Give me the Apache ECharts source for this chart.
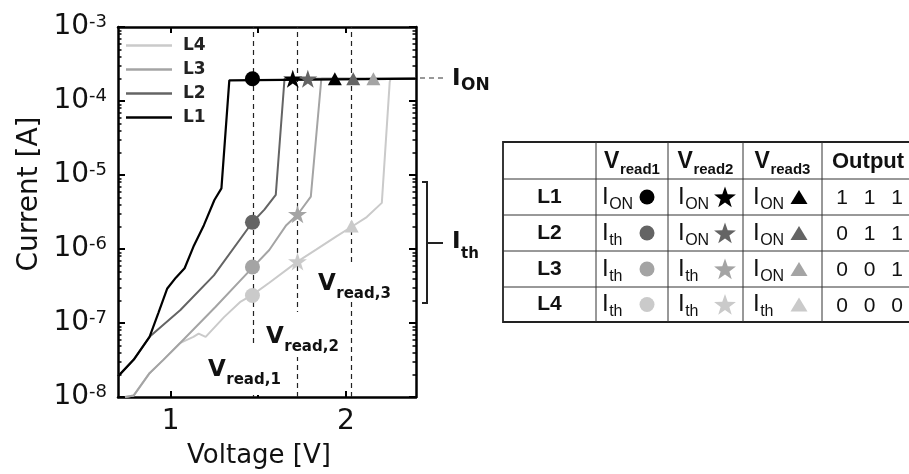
<!DOCTYPE html>
<html>
<head>
<meta charset="utf-8">
<script src="https://cdn.jsdelivr.net/npm/echarts@6/dist/echarts.min.js"></script>
<style>
  html, body { margin: 0; padding: 0; background: #fff; }
  #main { width: 909px; height: 474px; }
</style>
</head>
<body>
<div id="main"></div>
<script>
// ---- data ----
const levels = ['L1', 'L2', 'L3', 'L4'];
const levelColors = ['#000000', '#646464', '#a4a4a4', '#cacaca'];

// I-V curves [V, A]
const curveL1 = [[0.7, 1.9e-8], [0.79, 3.2e-8], [0.88, 6.5e-8], [0.93, 1.36e-7], [0.98, 2.9e-7], [1.03, 4.1e-7],
  [1.08, 5.5e-7], [1.13, 1.07e-6], [1.19, 2.1e-6], [1.25, 4.6e-6], [1.29, 6.6e-6], [1.335, 1.9e-4], [1.345, 2e-4], [2.4, 2e-4]];
const curveL2 = [[0.7, 1.9e-8], [0.79, 3.2e-8], [0.88, 6.5e-8], [1.056, 1.5e-7], [1.247, 4.4e-7], [1.467, 2.3e-6],
  [1.535, 3.4e-6], [1.6, 5.4e-6], [1.65, 2e-4], [2.4, 2e-4]];
const curveL3 = [[0.74, 1e-8], [0.79, 1.05e-8], [0.88, 2.1e-8], [0.96, 3.2e-8], [1.056, 5.4e-8], [1.257, 1.66e-7],
  [1.467, 5.6e-7], [1.563, 9.7e-7], [1.66, 2.1e-6], [1.726, 2.95e-6], [1.8, 5.1e-6], [1.86, 2e-4], [2.4, 2e-4]];
const curveL4 = [[0.74, 1e-8], [0.79, 1.05e-8], [0.88, 2.1e-8], [0.96, 3.2e-8], [1.056, 5.4e-8], [1.13, 6.5e-8],
  [1.16, 7.2e-8], [1.2, 6.5e-8], [1.305, 1.2e-7], [1.4, 1.95e-7], [1.467, 2.4e-7], [1.563, 3.5e-7], [1.726, 6.8e-7],
  [1.83, 9.8e-7], [1.946, 1.48e-6], [2.033, 2.0e-6], [2.119, 2.7e-6], [2.205, 4.2e-6], [2.25, 1.8e-4], [2.255, 2e-4], [2.4, 2e-4]];
const curves = [curveL1, curveL2, curveL3, curveL4];

const vRead = [1.467, 1.724, 2.03];
const vReadNames = ['read,1', 'read,2', 'read,3'];

// read markers: voltage, current, shape (0 circle,1 star,2 triangle), level
const markV = [1.467, 1.697, 1.783, 1.937, 2.042, 2.157, 1.467, 1.467, 1.467, 1.724, 1.724, 2.033];
const markI = [2e-4, 2e-4, 2e-4, 2e-4, 2e-4, 2e-4, 2.3e-6, 5.7e-7, 2.35e-7, 2.95e-6, 6.8e-7, 2.05e-6];
const markShape = [0, 1, 1, 2, 2, 2, 0, 0, 0, 1, 1, 2];
const markLevel = [0, 0, 1, 0, 1, 2, 1, 2, 3, 2, 3, 3];

const xLabels = [1, 2];
const xTicks = [1, 1.5, 2];

// table
const tableHead = ['read1', 'read2', 'read3'];
const cellState = [['ON', 'ON', 'ON'], ['th', 'ON', 'ON'], ['th', 'th', 'ON'], ['th', 'th', 'th']];
const outputBits = [[1, 1, 1], [0, 1, 1], [0, 0, 1], [0, 0, 0]];

// ---- helpers ----
const FONT = '"DejaVu Sans"';
const TFONT = '"Liberation Sans", Arial';
const STAR = 'path://M0,-1L0.2245,-0.309L0.951,-0.309L0.3633,0.118L0.5878,0.809L0,0.382L-0.5878,0.809L-0.3633,0.118L-0.951,-0.309L-0.2245,-0.309Z';
const shapeSymbol = ['circle', STAR, 'triangle'];
const shapeSize = [15, 19, [14, 13]];

const mctx = document.createElement('canvas').getContext('2d');
function textW(s, font) { mctx.font = font; return mctx.measureText(s).width; }

function txt(x, y, s, font, color, align) {
  return { type: 'text', x: x, y: y, z: 100,
    style: { text: s, font: font, fill: color || '#111', align: align || 'left', verticalAlign: 'middle',
      textAlign: align || 'left', textVerticalAlign: 'middle' } };
}
// main text with subscript; base = baseline of main text
function subText(x, base, main, sub, fs, sfs, drop, wMain, wSub, family, color) {
  const f1 = wMain + ' ' + fs + 'px ' + family;
  const f2 = wSub + ' ' + sfs + 'px ' + family;
  const w = textW(main, f1);
  return [txt(x, base - 0.35 * fs, main, f1, color), txt(x + w + 0.5, base + drop - 0.35 * sfs, sub, f2, color)];
}
function subWidth(main, sub, fs, sfs, wMain, wSub, family) {
  return textW(main, wMain + ' ' + fs + 'px ' + family) + 0.5 + textW(sub, wSub + ' ' + sfs + 'px ' + family);
}

// ---- series ----
const series = curves.map((c, i) => ({
  name: levels[i], type: 'line', data: c, symbol: 'none', xAxisIndex: 0, yAxisIndex: 0,
  lineStyle: { color: levelColors[i], width: i === 0 ? 2.2 : 2 }, itemStyle: { color: levelColors[i] },
  z: 10 - i
})).reverse();

series[0].markLine = {
  silent: true, symbol: 'none', label: { show: false },
  lineStyle: { color: '#222', type: [5, 4], width: 1.2 },
  data: vRead.map(v => ({ xAxis: v }))
};

series.push({
  type: 'scatter', xAxisIndex: 0, yAxisIndex: 0, z: 20,
  data: markV.map((v, k) => ({
    value: [v, markI[k]],
    symbol: shapeSymbol[markShape[k]], symbolSize: shapeSize[markShape[k]], symbolKeepAspect: true,
    itemStyle: { color: levelColors[markLevel[k]], opacity: 1 }
  }))
});

// ---- minor log ticks ----
const minorExp = [];
for (let n = -8; n < -3; n++) for (let k = 2; k <= 9; k++) minorExp.push(n + Math.log10(k));

// ---- graphics ----
const g = [];
// plot labels with white boxes
const vBox = [[200, 347, 92, 48], [260, 312, 88, 45], [312, 262, 90, 40]];
const vTxt = [[208, 378], [266, 345], [318, 292]];
vReadNames.forEach((s, i) => {
  const b = vBox[i];
  g.push({ type: 'rect', z: 90, shape: { x: b[0], y: b[1], width: b[2], height: b[3] }, style: { fill: '#fff' } });
  g.push(...subText(vTxt[i][0], vTxt[i][1], 'V', s, 23, 15, 7, 'bold', 'bold', FONT, '#111'));
});
// I_ON marker
g.push({ type: 'line', z: 90, shape: { x1: 420, y1: 78, x2: 443, y2: 78 }, style: { stroke: '#333', lineWidth: 1.2, lineDash: [5, 4] } });
g.push(...subText(452, 87, 'I', 'ON', 23, 17, 5, 'bold', 'bold', FONT, '#111'));
// I_th bracket
g.push({ type: 'polyline', z: 90, shape: { points: [[422, 182], [427, 182], [427, 303], [422, 303]] }, style: { stroke: '#222', lineWidth: 2, fill: null } });
g.push({ type: 'line', z: 90, shape: { x1: 427, y1: 243, x2: 443, y2: 243 }, style: { stroke: '#222', lineWidth: 2 } });
g.push(...subText(452, 250, 'I', 'th', 23, 15, 9, 'bold', 'bold', FONT, '#111'));
// axis names
g.push(txt(259, 456, 'Voltage [V]', '26px ' + FONT, '#111', 'center'));
g.push(Object.assign(txt(30, 194, 'Current [A]', '28px ' + FONT, '#111', 'center'), { rotation: Math.PI / 2, originX: 0, originY: 0 }));

// table
const colX = [503, 596, 668, 743, 822, 945];
const rowY = [142, 179, 215, 251, 287, 322];
g.push({ type: 'rect', z: 80, shape: { x: colX[0], y: rowY[0], width: colX[5] - colX[0], height: rowY[5] - rowY[0] }, style: { fill: '#fff', stroke: '#222', lineWidth: 1.8 } });
for (let c = 1; c <= 4; c++) g.push({ type: 'line', z: 81, shape: { x1: colX[c], y1: rowY[0], x2: colX[c], y2: rowY[5] }, style: { stroke: '#333', lineWidth: 1 } });
for (let r = 1; r <= 4; r++) g.push({ type: 'line', z: 81, shape: { x1: colX[0], y1: rowY[r], x2: 909, y2: rowY[r] }, style: { stroke: '#333', lineWidth: 1 } });
tableHead.forEach((s, j) => {
  const w = subWidth('V', s, 23, 15, 'bold', 'bold', TFONT);
  const cx = (colX[j + 1] + colX[j + 2]) / 2;
  g.push(...subText(cx - w / 2, 170, 'V', s, 23, 15, 5, 'bold', 'bold', TFONT, '#111'));
});
g.push(txt(832, 162, 'Output', 'bold 22px ' + TFONT, '#111', 'left'));

function starPts(cx, cy, R, r) {
  const p = [];
  for (let k = 0; k < 10; k++) {
    const a = -Math.PI / 2 + k * Math.PI / 5, rr = k % 2 ? r : R;
    p.push([cx + rr * Math.cos(a), cy + rr * Math.sin(a)]);
  }
  return p;
}
const cellTextDx = [6, 10, 10];
const markX = [647, 725, 799];
levels.forEach((name, i) => {
  const cy = (rowY[i + 1] + rowY[i + 2]) / 2;
  g.push(txt((colX[0] + colX[1]) / 2, cy, name, 'bold 21px ' + TFONT, '#111', 'center'));
  cellState[i].forEach((st, j) => {
    g.push(...subText(colX[j + 1] + cellTextDx[j], cy + 8.5, 'I', st, 24, 16, 4.5, 'normal', 'normal', TFONT, '#111'));
    const col = levelColors[i], mx = markX[j];
    if (j === 0) g.push({ type: 'circle', z: 85, shape: { cx: mx, cy: cy, r: 7.5 }, style: { fill: col } });
    if (j === 1) g.push({ type: 'polygon', z: 85, shape: { points: starPts(mx, cy + 1, 11.5, 4.6) }, style: { fill: col } });
    if (j === 2) g.push({ type: 'polygon', z: 85, shape: { points: [[mx, cy - 7], [mx + 8.5, cy + 7], [mx - 8.5, cy + 7]] }, style: { fill: col } });
  });
  outputBits[i].forEach((b, k) => {
    g.push(txt(842 + k * 27.5, cy + 1.5, String(b), '21px ' + TFONT, '#111', 'center'));
  });
});

// ---- chart ----
const chart = echarts.init(document.getElementById('main'));
const axisLine = { show: true, onZero: false, lineStyle: { color: '#000', width: 2.5 } };
const option = {
  animation: false,
  textStyle: { fontFamily: 'DejaVu Sans' },
  grid: { left: 118, right: 493, top: 27, bottom: 77 },
  legend: {
    orient: 'vertical', left: 121, top: 32, icon: 'rect', itemWidth: 46, itemHeight: 2.5, itemGap: 7,
    data: ['L4', 'L3', 'L2', 'L1'],
    textStyle: { fontFamily: 'DejaVu Sans', fontWeight: 'bold', fontSize: 17, color: '#222', padding: [0, 0, 0, 6] },
    selectedMode: false
  },
  xAxis: [
    { type: 'value', min: 0.7, max: 2.4, position: 'bottom', axisLine: axisLine,
      axisTick: { inside: true, length: 6, lineStyle: { color: '#000', width: 2 }, customValues: xTicks },
      axisLabel: { customValues: xLabels, fontSize: 28, color: '#111', margin: 11, fontFamily: 'DejaVu Sans' },
      splitLine: { show: false } },
    { type: 'value', min: 0.7, max: 2.4, position: 'top', axisLine: axisLine,
      axisTick: { inside: true, length: 6, lineStyle: { color: '#000', width: 2 }, customValues: xTicks },
      axisLabel: { show: false }, splitLine: { show: false } }
  ],
  yAxis: [
    { type: 'log', logBase: 10, min: 1e-8, max: 1e-3, position: 'left', axisLine: axisLine,
      axisTick: { inside: true, length: 7, lineStyle: { color: '#000', width: 2 } },
      axisLabel: {
        margin: 11,
        formatter: v => '{b|10}{e|' + Math.round(Math.log10(v)) + '}',
        rich: {
          b: { fontSize: 28, color: '#111', fontFamily: 'DejaVu Sans' },
          e: { fontSize: 18, color: '#111', fontFamily: 'DejaVu Sans', verticalAlign: 'top' }
        }
      },
      splitLine: { show: false } },
    { type: 'log', logBase: 10, min: 1e-8, max: 1e-3, position: 'right', axisLine: axisLine,
      axisTick: { inside: true, length: 7, lineStyle: { color: '#000', width: 2 } },
      axisLabel: { show: false }, splitLine: { show: false } },
    { type: 'value', min: -8, max: -3, position: 'left', axisLine: { show: false },
      axisTick: { inside: true, length: 3.5, lineStyle: { color: '#000', width: 1.5 }, customValues: minorExp },
      axisLabel: { show: false }, splitLine: { show: false } },
    { type: 'value', min: -8, max: -3, position: 'right', axisLine: { show: false },
      axisTick: { inside: true, length: 3.5, lineStyle: { color: '#000', width: 1.5 }, customValues: minorExp },
      axisLabel: { show: false }, splitLine: { show: false } }
  ],
  series: series,
  graphic: { elements: g }
};
chart.setOption(option);
</script>
</body>
</html>
